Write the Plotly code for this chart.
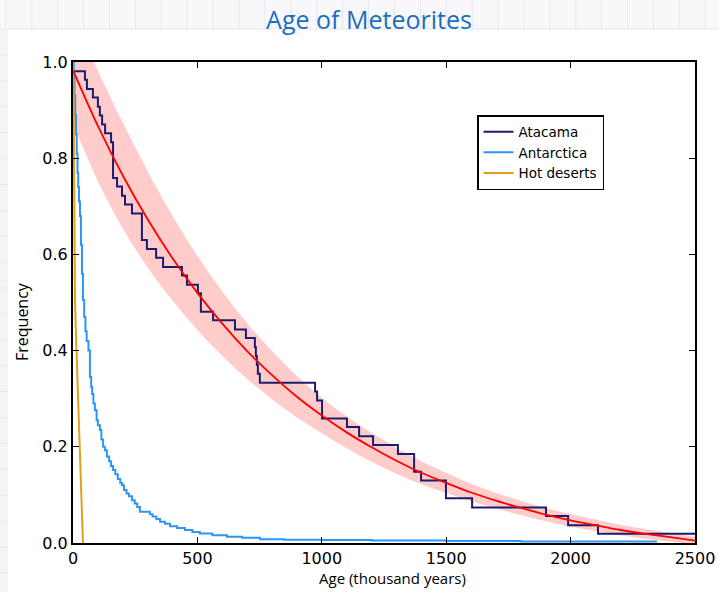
import plotly.graph_objects as go

# ---------------- data ----------------
atacama_age = [0, 48, 56, 80, 100, 108, 117, 129, 153, 161, 177, 197, 209, 237, 277, 297, 334, 362,
               438, 458, 502, 514, 563, 651, 695, 731, 735, 739, 743, 751, 973, 981, 1001, 1101,
               1150, 1206, 1306, 1371, 1399, 1499, 1604, 1901, 1990, 2110, 2500]
atacama_freq = [0.981, 0.963, 0.944, 0.926, 0.907, 0.889, 0.870, 0.852, 0.833, 0.759, 0.741, 0.722,
                0.704, 0.685, 0.630, 0.611, 0.593, 0.574, 0.556, 0.537, 0.519, 0.481, 0.463, 0.444,
                0.426, 0.407, 0.389, 0.370, 0.352, 0.333, 0.315, 0.296, 0.259, 0.241, 0.222, 0.204,
                0.185, 0.148, 0.130, 0.093, 0.074, 0.056, 0.037, 0.019, 0.019]

antarctica_age = [0, 3, 6, 9, 12, 15, 18, 21, 24, 28, 32, 36, 40, 45, 50, 55, 62, 68, 73, 77, 82, 88,
                  95, 100, 108, 114, 121, 128, 136, 145, 153, 161, 170, 180, 190, 197, 205, 215, 225,
                  237, 248, 258, 269, 309, 320, 335, 350, 370, 390, 418, 450, 480, 510, 560, 619,
                  680, 752, 850, 1000, 1200, 1500, 1800, 2100, 2347]
antarctica_freq = [1.0, 0.97, 0.93, 0.89, 0.85, 0.81, 0.77, 0.74, 0.71, 0.68, 0.62, 0.56, 0.505,
                   0.47, 0.44, 0.42, 0.40, 0.345, 0.325, 0.31, 0.29, 0.276, 0.255, 0.245, 0.235,
                   0.215, 0.2, 0.193, 0.18, 0.17, 0.16, 0.152, 0.143, 0.133, 0.125, 0.12, 0.11,
                   0.103, 0.097, 0.089, 0.082, 0.075, 0.065, 0.06, 0.055, 0.05, 0.044, 0.04, 0.035,
                   0.031, 0.027, 0.023, 0.02, 0.016, 0.013, 0.011, 0.008, 0.007, 0.006, 0.005,
                   0.004, 0.003, 0.003, 0.003]

hot_age = [0, 2, 4, 6, 8, 16, 24, 32, 38, 40]
hot_freq = [1.0, 0.95, 0.8, 0.65, 0.5, 0.37, 0.24, 0.12, 0.04, 0.0]

fit_age = [0, 100, 200, 300, 400, 500, 600, 700, 800, 900, 1000, 1100, 1200, 1300, 1400, 1500,
           1600, 1700, 1800, 1900, 2000, 2100, 2200, 2300, 2400, 2500]
fit_freq = [0.983, 0.867, 0.764, 0.673, 0.592, 0.520, 0.456, 0.399, 0.349, 0.304, 0.265, 0.230,
            0.199, 0.171, 0.146, 0.125, 0.105, 0.088, 0.073, 0.059, 0.047, 0.037, 0.027, 0.019,
            0.012, 0.005]
fit_halfwidth = [0.11, 0.115, 0.11, 0.1, 0.088, 0.077, 0.067, 0.058, 0.05, 0.043, 0.037, 0.033,
                 0.03, 0.027, 0.024, 0.021, 0.018, 0.016, 0.015, 0.014, 0.013, 0.012, 0.011,
                 0.01, 0.009, 0.008]

x_ticks = [0, 500, 1000, 1500, 2000, 2500]
y_ticks = [0.0, 0.2, 0.4, 0.6, 0.8, 1.0]
y_tick_text = ["0.0", "0.2", "0.4", "0.6", "0.8", "1.0"]

upper = [f + w for f, w in zip(fit_freq, fit_halfwidth)]
lower = [f - w for f, w in zip(fit_freq, fit_halfwidth)]

W, H = 719, 592
L, R, T, B = 73, 24, 62, 49
PW, PH = W - L - R, H - T - B

# ---------------- figure ----------------
fig = go.Figure()
fig.add_trace(go.Scatter(x=fit_age, y=upper, mode="lines", line=dict(width=0, shape="spline"),
                         showlegend=False, hoverinfo="skip"))
fig.add_trace(go.Scatter(x=fit_age, y=lower, mode="lines", line=dict(width=0, shape="spline"),
                         fill="tonexty", fillcolor="#ffcccc", showlegend=False, hoverinfo="skip"))
fig.add_trace(go.Scatter(x=atacama_age, y=atacama_freq, mode="lines", name="Atacama",
                         line=dict(color="#1c1c6e", width=2, shape="hv")))
fig.add_trace(go.Scatter(x=antarctica_age, y=antarctica_freq, mode="lines", name="Antarctica",
                         line=dict(color="#2f95f5", width=2, shape="hv")))
fig.add_trace(go.Scatter(x=hot_age, y=hot_freq, mode="lines", name="Hot deserts",
                         line=dict(color="#e0a01c", width=2)))
fig.add_trace(go.Scatter(x=fit_age, y=fit_freq, mode="lines", line=dict(color="#ff0000", width=1.8,
                         shape="spline"), showlegend=False, hoverinfo="skip"))


def px_x(p):
    return (p - L) / PW


def px_y(p):
    return (H - B - p) / PH


# page-like decoration (header strip with faint grid and left strip)
shapes = []
shapes.append(dict(type="rect", xref="paper", yref="paper", x0=px_x(0), x1=px_x(W),
                   y0=px_y(29), y1=px_y(0), fillcolor="#f8f8fa", line=dict(width=0), layer="below"))
shapes.append(dict(type="rect", xref="paper", yref="paper", x0=px_x(0), x1=px_x(8),
                   y0=px_y(H), y1=px_y(29), fillcolor="#f4f4f6", line=dict(width=0), layer="below"))
gx = 6.0
while gx < W:
    shapes.append(dict(type="line", xref="paper", yref="paper", x0=px_x(gx), x1=px_x(gx),
                       y0=px_y(29), y1=px_y(0), line=dict(color="#e6e7ee", width=1), layer="below"))
    gx += 25.9
gy = 55.0
while gy < H:
    shapes.append(dict(type="line", xref="paper", yref="paper", x0=px_x(0), x1=px_x(8),
                       y0=px_y(gy), y1=px_y(gy), line=dict(color="#e6e7ee", width=1), layer="below"))
    gy += 25.9
shapes.append(dict(type="line", xref="paper", yref="paper", x0=px_x(0), x1=px_x(W),
                   y0=px_y(29), y1=px_y(29), line=dict(color="#e6e7ee", width=1), layer="below"))

axis_common = dict(showline=True, linecolor="black", linewidth=2, mirror="ticks", ticks="inside",
                   ticklen=6, tickwidth=1, tickcolor="black", showgrid=False, zeroline=False,
                   automargin=False,
                   tickfont=dict(family="DejaVu Sans", size=16, color="black"))

annotations = [
    dict(text="Age (thousand years)", xref="paper", yref="paper", x=px_x(392), y=px_y(578),
         xanchor="center", yanchor="middle", showarrow=False,
         font=dict(family="Open Sans", size=15, color="black")),
    dict(text="Frequency", xref="paper", yref="paper", x=px_x(22), y=px_y(322), textangle=-90,
         xanchor="center", yanchor="middle", showarrow=False,
         font=dict(family="Open Sans", size=16, color="black")),
]

fig.update_layout(
    width=W, height=H,
    margin=dict(l=L, r=R, t=T, b=B),
    paper_bgcolor="white", plot_bgcolor="white",
    title=dict(text="Age of Meteorites", x=369 / W, xref="container", xanchor="center",
               y=1 - 20 / H, yref="container", yanchor="middle",
               font=dict(family="Open Sans", size=25, color="#1a6fc0")),
    xaxis=dict(range=[0, 2500], tickvals=x_ticks, **axis_common),
    yaxis=dict(range=[0, 1.0], tickvals=y_ticks, ticktext=y_tick_text, **axis_common),
    legend=dict(x=px_x(477), y=px_y(115), xanchor="left", yanchor="top",
                bgcolor="white", bordercolor="black", borderwidth=1.5, traceorder="normal",
                font=dict(family="DejaVu Sans", size=13.5, color="black"), itemwidth=30,
                tracegroupgap=0),
    shapes=shapes,
    annotations=annotations,
    showlegend=True,
)

fig.write_html("out.html", config={"displayModeBar": False},
               post_script="document.body.style.margin='0';")
